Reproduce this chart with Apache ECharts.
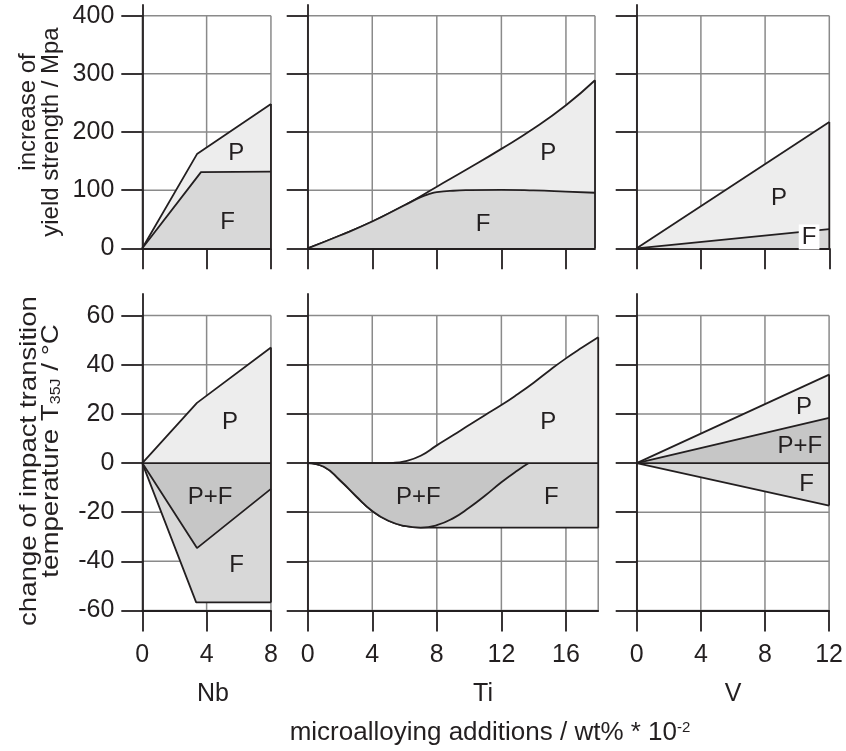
<!DOCTYPE html>
<html>
<head>
<meta charset="utf-8">
<script src="https://cdn.jsdelivr.net/npm/echarts@6/dist/echarts.min.js"></script>
<style>
  html, body { margin: 0; padding: 0; background: #ffffff; }
  #chart { width: 846px; height: 751px; }
</style>
</head>
<body>
<div id="chart"></div>
<script>
// ---------- data ----------
const elements = ['Nb', 'Ti', 'V'];

const xTicksNb = [0, 4, 8];
const xTicksTi = [0, 4, 8, 12, 16];
const xTicksV = [0, 4, 8, 12];
const yieldTicks = [0, 100, 200, 300, 400];
const transTicks = [-60, -40, -20, 0, 20, 40, 60];

// increase of yield strength, MPa, vs addition (wt% * 10^-2)
const nbYieldP = [[0, 0], [3.4, 162], [8, 248]];
const nbYieldF = [[0, 0], [3.65, 131], [8, 132]];
const tiYieldP = [[0, 0], [2, 22], [4, 46], [6, 74], [8, 106], [10, 138], [12, 171], [14, 206], [16, 246], [17.8, 289]];
const tiYieldF = [[0, 0], [2, 22], [4, 46], [6, 74], [7, 88], [7.6, 94], [8, 96.5], [9, 99], [10, 100], [12, 100.5], [14, 99.5], [16, 97.5], [17.8, 95.5]];
const vYieldP = [[0, 0], [12, 217]];
const vYieldF = [[0, 0], [12, 33]];

// change of impact transition temperature T35J, °C
const nbTransP = [[0, 0], [3.4, 24.5], [8, 47]];
const nbTransPF = [[0, 0], [3.4, -34.6], [8, -10.5]];
const nbTransF = [[0, 0], [3.35, -56.7], [8, -56.7]];
const tiTransP = [[0, 0], [4.5, 0], [5.3, 0.1], [6, 0.7], [7, 3], [8, 7.2], [9, 11.3], [10, 15.5], [11, 19.6], [12, 23.6], [13, 28], [14, 32.7], [15, 37.8], [16, 42.6], [17, 47], [18, 51.2]];
const tiTransPF = [[0, 0], [1, -1.5], [2, -7], [3, -13.5], [4, -19.5], [5, -23.5], [6, -25.6], [7, -26.3], [8, -25.3], [9, -22.5], [10, -18.2], [11, -13.2], [12, -7.8], [13, -3], [13.7, 0]];
const tiTransF = [[0, 0], [1, -1.5], [2, -7], [3, -13.5], [4, -19.5], [5, -23.5], [6, -25.6], [7, -26.3], [8, -26.3], [18, -26.3]];
const vTransP = [[0, 0], [12, 36]];
const vTransPF = [[0, 0], [12, 18.4]];
const vTransF = [[0, 0], [12, -17.3]];

// ---------- styling / layout ----------
const FONT = '"Liberation Sans", Arial, Helvetica, sans-serif';
const INK = '#231f20';
const GRID_GRAY = '#8a8a8a';
const FILL = { P: '#ededed', F: '#d8d8d8', PF: '#c6c6c6' };
const NAMES = { P: 'P', F: 'F', PF: 'P+F' };
const LINE_W = 1.8;
const TICK_LEN = 21;

// pixel frame of each column (left edge, px per unit of addition)
const cols = [
  { left: 142.3, unit: 16.08 },
  { left: 307.7, unit: 16.14 },
  { left: 636.7, unit: 16.05 }
];
// pixel frame of each row; the axis line runs a little past the last grid line
const rows = [
  { top: 5, height: 243.3, yMin: 0, yMax: 418.4, gridTop: 400, ticks: yieldTicks },
  { top: 294, height: 316.5, yMin: -60, yMax: 68.8, gridTop: 60, ticks: transTicks }
];

// where the phase names sit inside each panel (data coordinates)
const labelSpots = [
  [[5.84, 164, 'P'], [5.3, 45, 'F']],
  [[14.9, 164, 'P'], [10.86, 42, 'F']],
  [[8.87, 86, 'P'], [10.74, 19.5, 'F', true]],
  [[5.46, 16.7, 'P'], [4.21, -13.9, 'P+F'], [5.87, -41.7, 'F']],
  [[14.9, 16.7, 'P'], [6.85, -13.9, 'P+F'], [15.1, -13.9, 'F']],
  [[10.43, 22.8, 'P'], [10.18, 6.8, 'P+F'], [10.6, -8.7, 'F']]
];

// element names under the bottom row (pixel centre x)
const elementNameX = [213, 483, 733];

// panels; layers are painted in the listed order
const panels = [
  { row: 0, col: 0, xMax: 8, xTicks: xTicksNb, layers: [['P', nbYieldP, false], ['F', nbYieldF, false]] },
  { row: 0, col: 1, xMax: 17.8, xTicks: xTicksTi, layers: [['P', tiYieldP, true], ['F', tiYieldF, true]] },
  { row: 0, col: 2, xMax: 12, xTicks: xTicksV, layers: [['P', vYieldP, false], ['F', vYieldF, false]] },
  { row: 1, col: 0, xMax: 8, xTicks: xTicksNb, layers: [['F', nbTransF, false], ['PF', nbTransPF, false], ['P', nbTransP, false]] },
  { row: 1, col: 1, xMax: 18, xTicks: xTicksTi, layers: [['F', tiTransF, true], ['PF', tiTransPF, true], ['P', tiTransP, true]] },
  { row: 1, col: 2, xMax: 12, xTicks: xTicksV, layers: [['P', vTransP, false], ['PF', vTransPF, false], ['F', vTransF, false]] }
];

const tickText = { fontSize: 25, color: INK, fontFamily: FONT };

const grid = [], xAxis = [], yAxis = [], series = [];

panels.forEach((p, i) => {
  const row = rows[p.row];
  const col = cols[p.col];
  grid.push({ left: col.left, top: row.top, width: p.xMax * col.unit, height: row.height });

  xAxis.push({
    gridIndex: i, type: 'value', min: 0, max: p.xMax, z: 10,
    axisLine: { onZero: false, lineStyle: { color: INK, width: LINE_W } },
    axisTick: { length: TICK_LEN, customValues: p.xTicks, lineStyle: { color: INK, width: LINE_W } },
    axisLabel: Object.assign({ show: p.row === 1, customValues: p.xTicks, margin: 32 }, tickText),
    splitLine: { show: false }
  });

  yAxis.push({
    gridIndex: i, type: 'value', min: row.yMin, max: row.yMax, z: 10,
    axisLine: { onZero: false, lineStyle: { color: INK, width: LINE_W } },
    axisTick: { length: TICK_LEN, customValues: row.ticks, lineStyle: { color: INK, width: LINE_W } },
    axisLabel: Object.assign({ show: p.col === 0, customValues: row.ticks, margin: 28 }, tickText),
    splitLine: { show: false }
  });

  // grey grid: vertical lines at x ticks and the panel's right edge, horizontal at y ticks
  const vx = p.xTicks.includes(p.xMax) ? p.xTicks : p.xTicks.concat([p.xMax]);
  const segs = vx.map(x => [x, row.yMin, x, row.gridTop])
    .concat(row.ticks.map(y => [0, y, p.xMax, y]));
  series.push({
    type: 'custom', xAxisIndex: i, yAxisIndex: i, z: 1, silent: true, clip: false,
    data: segs,
    renderItem: (params, api) => {
      const a = api.coord([api.value(0), api.value(1)]);
      const b = api.coord([api.value(2), api.value(3)]);
      return { type: 'line', shape: { x1: a[0], y1: a[1], x2: b[0], y2: b[1] },
               style: { stroke: GRID_GRAY, lineWidth: 1.5 } };
    }
  });

  // shaded phase regions with their black boundary curves
  p.layers.forEach(([key, data, smooth], k) => {
    series.push({
      type: 'line', name: NAMES[key], xAxisIndex: i, yAxisIndex: i, z: 2 + k, silent: true,
      data: data, symbol: 'none',
      smooth: smooth ? 0.5 : false,
      lineStyle: { color: INK, width: LINE_W },
      areaStyle: { color: FILL[key], opacity: 1 }
    });
  });

  // closing edge at the right end, and the zero line in the lower row
  const ends = p.layers.map(l => l[1][l[1].length - 1][1]).concat([0]);
  const outline = [[[p.xMax, Math.min(...ends)], [p.xMax, Math.max(...ends)]]];
  if (p.row === 1) outline.push([[0, 0], [p.xMax, 0]]);
  outline.forEach(d => series.push({
    type: 'line', xAxisIndex: i, yAxisIndex: i, z: 8, silent: true,
    data: d, symbol: 'none', lineStyle: { color: INK, width: LINE_W }
  }));

  // phase names, drawn as plain text at their spots
  series.push({
    type: 'custom', xAxisIndex: i, yAxisIndex: i, z: 20, silent: true, clip: false,
    data: labelSpots[i].map(s => [s[0], s[1], s[2], s[3] ? 1 : 0]),
    dimensions: ['x', 'y', { name: 'name', type: 'ordinal' }, 'boxed'],
    renderItem: (params, api) => {
      const spot = labelSpots[i][params.dataIndex];
      const pt = api.coord([spot[0], spot[1]]);
      return {
        type: 'text', x: pt[0], y: pt[1],
        style: {
          text: spot[2], font: 'normal 24px ' + FONT, fill: INK,
          align: 'center', verticalAlign: 'middle',
          backgroundColor: spot[3] ? '#ffffff' : null,
          padding: spot[3] ? [1, 3, 0, 3] : 0
        }
      };
    }
  });
});

const font24 = 'normal 24px ' + FONT;
const font26 = 'normal 26px ' + FONT;
const graphic = [
  { type: 'text', x: 28, y: 112, rotation: Math.PI / 2, silent: true,
    style: { text: 'increase of', font: font24, fill: INK, align: 'center', verticalAlign: 'middle' } },
  { type: 'text', x: 51, y: 132, rotation: Math.PI / 2, silent: true,
    style: { text: 'yield strength / Mpa', font: font24, fill: INK, align: 'center', verticalAlign: 'middle' } },
  { type: 'text', x: 29, y: 461, rotation: Math.PI / 2, scaleX: 1.15, silent: true,
    style: { text: 'change of impact transition', font: font24, fill: INK, align: 'center', verticalAlign: 'middle' } },
  { type: 'text', x: 51, y: 451, rotation: Math.PI / 2, scaleX: 1.15, silent: true,
    style: { text: 'temperature T{sub|35J} / °C', font: font24, fill: INK, align: 'center', verticalAlign: 'middle',
             rich: { sub: { fontSize: 14, fontFamily: FONT, fill: INK, verticalAlign: 'bottom', lineHeight: 14 } } } },
  { type: 'text', x: 490, y: 733, silent: true,
    style: { text: 'microalloying additions / wt% * 10{sup|-2}', font: font26, fill: INK, align: 'center', verticalAlign: 'middle',
             rich: { sup: { fontSize: 15, fontFamily: FONT, fill: INK, verticalAlign: 'top', lineHeight: 15 } } } }
].concat(elements.map((name, c) => ({
  type: 'text', x: elementNameX[c], y: 694, silent: true,
  style: { text: name, font: 'normal 25px ' + FONT, fill: INK, align: 'center', verticalAlign: 'middle' }
})));

const option = {
  animation: false,
  backgroundColor: '#ffffff',
  grid, xAxis, yAxis, series, graphic
};

const chart = echarts.init(document.getElementById('chart'), null, { renderer: 'canvas' });
chart.setOption(option);
</script>
</body>
</html>
